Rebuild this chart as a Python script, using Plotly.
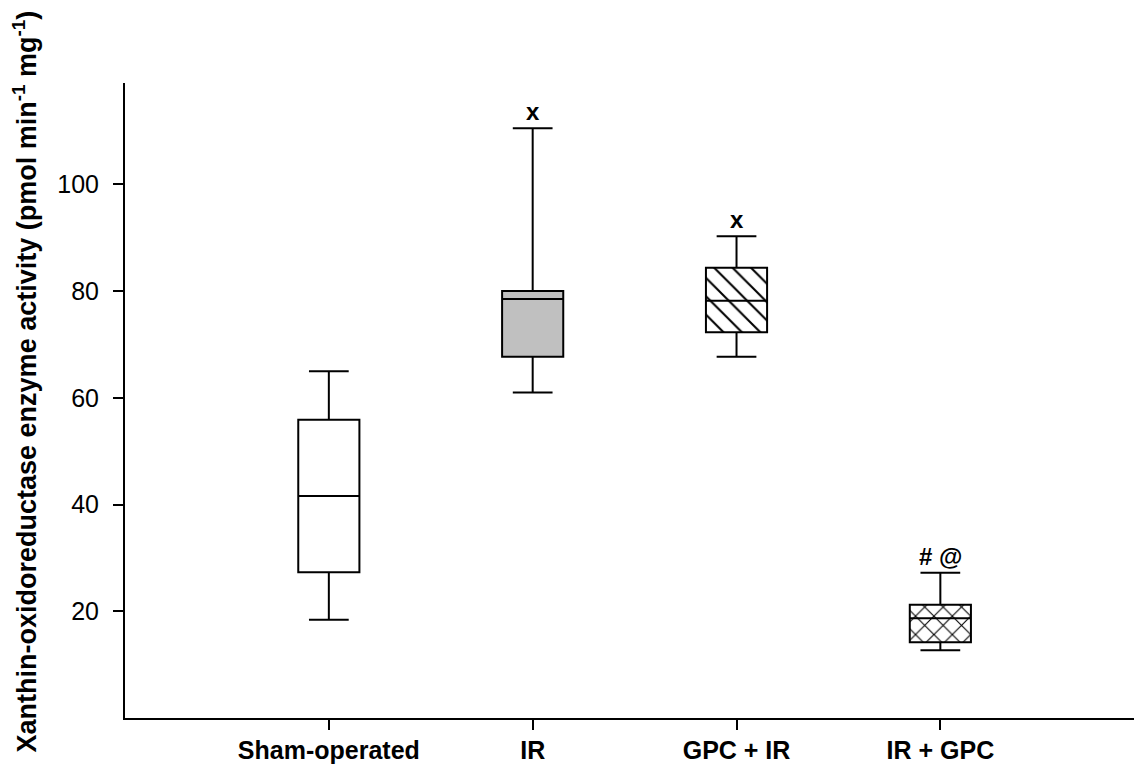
import plotly.graph_objects as go

categories = ["Sham-operated", "IR", "GPC + IR", "IR + GPC"]
lower_whisker = [18.4, 61.0, 67.7, 12.7]
q1_values = [27.3, 67.7, 72.3, 14.2]
median_values = [41.6, 78.5, 78.2, 18.7]
q3_values = [55.9, 80.0, 84.4, 21.2]
upper_whisker = [65.0, 110.5, 90.3, 27.2]
fill_colors = ["white", "#c0c0c0", "white", "white"]
patterns = ["", "", "\\", "x"]
significance = ["", "x", "x", "# @"]
y_ticks = [20, 40, 60, 80, 100]

FONT = "Liberation Sans, Arial, sans-serif"

fig = go.Figure()

# hatch fills (drawn first, below the boxes)
for i, cat in enumerate(categories):
    if patterns[i]:
        fig.add_trace(go.Bar(
            x=[cat], y=[q3_values[i] - q1_values[i]], base=[q1_values[i]],
            width=0.3,
            marker=dict(color="white",
                        pattern=dict(shape=patterns[i], size=13, solidity=0.16,
                                     fgcolor="black", bgcolor="white", fgopacity=1,
                                     fillmode="overlay"),
                        line=dict(width=0)),
            showlegend=False, hoverinfo="skip"))

for i, cat in enumerate(categories):
    fig.add_trace(go.Box(
        x=[cat], q1=[q1_values[i]], median=[median_values[i]], q3=[q3_values[i]],
        lowerfence=[lower_whisker[i]], upperfence=[upper_whisker[i]],
        width=0.3, whiskerwidth=0.65, boxpoints=False,
        fillcolor=("rgba(0,0,0,0)" if patterns[i] else fill_colors[i]),
        line=dict(color="black", width=2),
        showlegend=False))

for i, cat in enumerate(categories):
    if significance[i]:
        fig.add_annotation(x=cat, y=upper_whisker[i], text="<b>" + significance[i] + "</b>",
                           showarrow=False, yanchor="bottom", yshift=1,
                           font=dict(family=FONT, size=24, color="black"))

fig.add_annotation(xref="paper", yref="paper", x=0, y=0.53, xshift=-100,
                   text="<b>Xanthin-oxidoreductase enzyme activity (pmol min<sup>-1</sup> mg<sup>-1</sup>)</b>",
                   textangle=-90, showarrow=False, xanchor="center", yanchor="middle",
                   font=dict(family=FONT, size=27, color="black"))

fig.update_layout(
    width=1134, height=765,
    margin=dict(l=125, r=0, t=83, b=47),
    paper_bgcolor="white", plot_bgcolor="white",
    boxmode="overlay", barmode="overlay",
    font=dict(family=FONT, color="black"),
    xaxis=dict(type="category", categoryorder="array", categoryarray=categories,
               range=[-1, 3.95], showline=True, linewidth=2, linecolor="black",
               ticks="outside", ticklen=10, tickwidth=2, tickcolor="black",
               showgrid=False, zeroline=False, automargin=False,
               ticklabelstandoff=-1,
               tickfont=dict(family=FONT, size=25, color="black", weight="bold")),
    yaxis=dict(range=[0, 119], tickvals=y_ticks, showline=True, linewidth=2,
               linecolor="black", ticks="outside", ticklen=10, tickwidth=2,
               tickcolor="black", showgrid=False, zeroline=False, automargin=False,
               ticklabelstandoff=9,
               tickfont=dict(family=FONT, size=25, color="black")),
)

fig.write_html("out.html", config={"displayModeBar": False},
               post_script="document.body.style.margin='0';document.body.style.overflow='hidden';")
